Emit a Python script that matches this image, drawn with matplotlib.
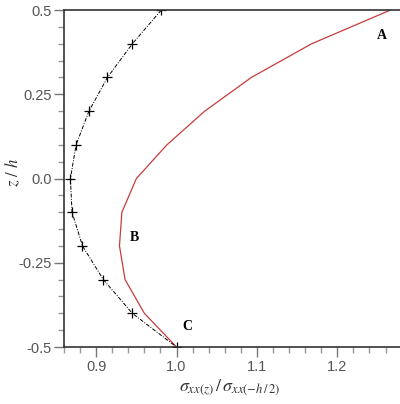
import numpy as np
import matplotlib
matplotlib.use("Agg")
from matplotlib import pyplot as plt
from matplotlib.ticker import MultipleLocator, FixedLocator

# z/h levels
z = [0.5, 0.4, 0.3, 0.2, 0.1, 0.0, -0.1, -0.2, -0.3, -0.4, -0.5]
# dash-dot curve with + markers
s_black = [0.981, 0.945, 0.914, 0.891, 0.875, 0.868, 0.870, 0.883, 0.909, 0.945, 1.0]
# red curve A-B-C
s_red = [1.266, 1.168, 1.093, 1.035, 0.988, 0.950, 0.932, 0.929, 0.936, 0.960, 1.0]

labels = ["A", "B", "C"]
label_x = [1.256, 0.947, 1.013]
label_y = [0.426, -0.174, -0.44]

plt.rcParams["mathtext.fontset"] = "stix"

fig = plt.figure(figsize=(4.0, 4.04), dpi=100)
ax = fig.add_axes([0.16, 0.141, 0.84, 0.834])

ax.plot(s_red, z, color="#c83c3c", lw=0.9)
ax.plot(s_black, z, color="black", lw=0.7, linestyle=(0, (4, 1.5, 1, 1.5)),
        marker="+", markersize=7, markeredgewidth=0.9)

for t, lx, ly in zip(labels, label_x, label_y):
    ax.text(lx, ly, t, fontsize=10, fontweight="bold", family="Liberation Serif",
            ha="center", va="center")

ax.set_xlim(0.86, 1.278)
ax.set_ylim(-0.5, 0.5)

ax.xaxis.set_major_locator(FixedLocator([0.9, 1.0, 1.1, 1.2]))
ax.xaxis.set_minor_locator(MultipleLocator(0.02))
ax.yaxis.set_major_locator(FixedLocator([-0.5, -0.25, 0.0, 0.25, 0.5]))
ax.yaxis.set_minor_locator(MultipleLocator(0.05))
ax.set_xticklabels(["0.9", "1.0", "1.1", "1.2"])
ax.set_yticklabels(["-0.5", "-0.25", "0.0", "0.25", "0.5"])

ax.tick_params(which="major", length=7, width=1, color="#777777", pad=2,
               labelsize=10.5, labelcolor="#555555")
ax.tick_params(which="minor", length=4.5, width=1, color="#999999")
for lab in ax.get_xticklabels() + ax.get_yticklabels():
    lab.set_family("Liberation Sans")

ax.spines["right"].set_visible(False)
for side in ["left", "bottom", "top"]:
    ax.spines[side].set_color("#333333")
    ax.spines[side].set_linewidth(1.2)

ax.set_xlabel(r"$\sigma_{xx(z)}\,/\,\sigma_{xx(-h\,/\,2)}$", fontsize=13,
              color="#333333")
ax.xaxis.set_label_coords(0.494, -0.09)
ax.set_ylabel(r"$z\ /\ h$", fontsize=12, color="#333333", va="center")
ax.yaxis.set_label_coords(-0.152, 0.519)

fig.savefig("out.png", dpi=100)
